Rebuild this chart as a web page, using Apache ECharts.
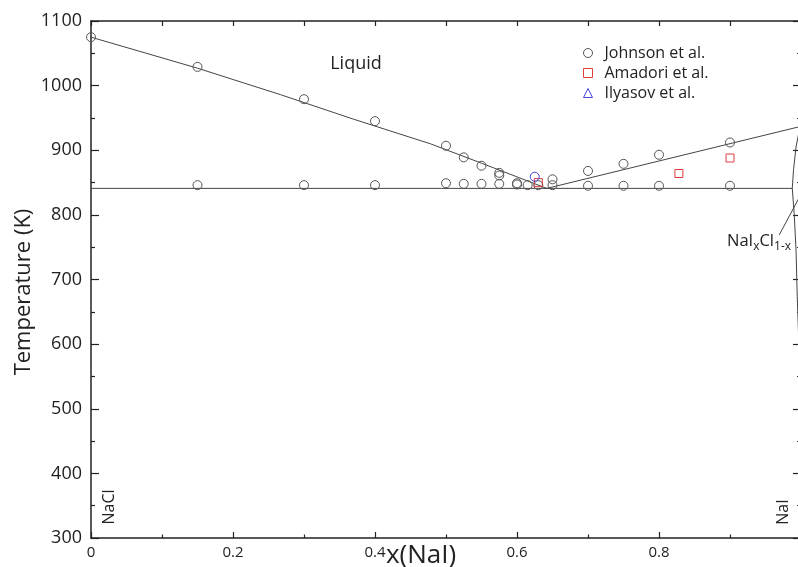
<!DOCTYPE html>
<html><head><meta charset="utf-8">
<script src="https://cdn.jsdelivr.net/npm/echarts@6/dist/echarts.min.js"></script>
<style>html,body{margin:0;padding:0;background:#fff}#c{width:798px;height:567px}</style>
</head><body><div id="c"></div>
<script>
// ---- data ----
const johnson = [
  [0,1075],[0.15,1029],[0.3,979],[0.4,945],[0.5,907],[0.525,889],[0.55,876],[0.575,865],[0.575,861],
  [0.65,855],[0.7,868],[0.75,879],[0.8,893],[0.9,912],
  [0.15,846],[0.3,846],[0.4,846],[0.5,849],[0.525,848],[0.55,848],[0.575,848],[0.6,849],[0.6,847],
  [0.615,846],[0.63,846],[0.65,846],[0.7,845],[0.75,845],[0.8,845],[0.9,845]
];
const amadori = [[0.63,850],[0.828,864],[0.9,888]];
const ilyasov = [[0.625,859]];
const liquidusLeft = [[0,1075],[0.15,1027],[0.267,986],[0.37,948],[0.478,910],[0.55,880],[0.642,841]];
const liquidusRight = [[0.642,841],[1.0,937]];
const eutectic = [[0,841],[0.9877,841]];
const solidus = [[1.0,937],[0.996,922],[0.993,905],[0.9895,870],[0.9877,841],[0.9904,802],[0.993,746],[0.9947,674],[0.997,600],[0.999,500],[1.0,400]];
const leader = [[0.9694,769],[0.9976,827]];
const seriesNames = ['Johnson et al.','Amadori et al.','Ilyasov et al.'];
const xAxisTitle = 'x(NaI)';
const yAxisTitle = 'Temperature (K)';

const FONT = 'Open Sans';
const INK = '#222';
const lineStyle = {color:'#444', width:1};
function lineSeries(data){
  return {type:'line', data, symbol:'none', silent:true, lineStyle, z:2, animation:false};
}
const chart = echarts.init(document.getElementById('c'), null, {renderer:'canvas'});
chart.setOption({
  animation:false,
  backgroundColor:'#fff',
  textStyle:{fontFamily:FONT},
  grid:{left:91, right:-3, top:21, bottom:29, containLabel:false, outerBoundsMode:'none'},
  xAxis:[
    {type:'value', min:0, max:1, interval:0.2, position:'bottom',
     axisLine:{show:true, onZero:false, lineStyle:{color:INK, width:1.5}},
     axisTick:{show:true, inside:true, length:6, lineStyle:{color:INK, width:1.2}},
     minorTick:{show:true, splitNumber:2, length:3.5, lineStyle:{color:INK, width:1.2}},
     axisLabel:{show:true, fontSize:15, color:INK, margin:7, fontFamily:FONT,
       formatter:v => v >= 1 ? '' : String(v)},
     splitLine:{show:false}, minorSplitLine:{show:false}},
    {type:'value', min:0, max:1, interval:0.1, position:'top',
     axisLine:{show:true, onZero:false, lineStyle:{color:INK, width:1.5}},
     axisTick:{show:true, inside:true, length:5, lineStyle:{color:INK, width:1.2}},
     axisLabel:{show:false}, splitLine:{show:false}}
  ],
  yAxis:[
    {type:'value', min:300, max:1100, interval:100, position:'left',
     axisLine:{show:true, onZero:false, lineStyle:{color:INK, width:1.5}},
     axisTick:{show:true, inside:true, length:8, lineStyle:{color:INK, width:1.2}},
     minorTick:{show:true, splitNumber:2, length:4, lineStyle:{color:INK, width:1.2}},
     axisLabel:{show:true, fontSize:18, color:INK, margin:9, fontFamily:FONT,
       formatter:v => String(v)},
     splitLine:{show:false}},
    {type:'value', min:300, max:1100, interval:100, position:'right',
     axisLine:{show:true, onZero:false, lineStyle:{color:INK, width:1.5}},
     axisTick:{show:true, inside:true, length:8, lineStyle:{color:INK, width:1.2}},
     minorTick:{show:true, splitNumber:2, length:4, lineStyle:{color:INK, width:1.2}},
     axisLabel:{show:false}, splitLine:{show:false}}
  ],
  legend:{
    orient:'vertical', left:583, top:45, padding:0, itemWidth:9, itemHeight:9, itemGap:4,
    textStyle:{fontSize:16, color:INK, fontFamily:FONT, padding:[0,0,0,7]},
    itemStyle:{borderWidth:1},
    data:[
      {name:seriesNames[0], icon:'circle'},
      {name:seriesNames[1], icon:'rect'},
      {name:seriesNames[2], icon:'triangle'}
    ]
  },
  series:[
    lineSeries(liquidusLeft),
    lineSeries(liquidusRight),
    lineSeries(eutectic),
    lineSeries(solidus),
    lineSeries(leader),
    {type:'scatter', name:seriesNames[0], data:johnson, symbol:'circle', symbolSize:9, z:5,
     itemStyle:{color:'rgba(255,255,255,0)', borderColor:'#555', borderWidth:1, opacity:1}},
    {type:'scatter', name:seriesNames[1], data:amadori, symbol:'rect', symbolSize:8, z:6,
     itemStyle:{color:'rgba(255,255,255,0)', borderColor:'#e03c3c', borderWidth:1, opacity:1}},
    {type:'scatter', name:seriesNames[2], data:ilyasov, symbol:'circle', symbolSize:9, z:6,
     itemStyle:{color:'rgba(255,255,255,0)', borderColor:'#4646dc', borderWidth:1, opacity:1}}
  ],
  graphic:[
    {type:'text', x:356, y:64, style:{text:'Liquid', font:'18px "Open Sans"', fill:INK, align:'center', verticalAlign:'middle', textAlign:'center', textVerticalAlign:'middle'}},
    {type:'text', x:109, y:507, rotation:Math.PI/2, style:{text:'NaCl', font:'16px "Open Sans"', fill:INK, align:'center', verticalAlign:'middle', textAlign:'center', textVerticalAlign:'middle'}},
    {type:'text', x:783, y:512, rotation:Math.PI/2, style:{text:'NaI', font:'16px "Open Sans"', fill:INK, align:'center', verticalAlign:'middle', textAlign:'center', textVerticalAlign:'middle'}},
    {type:'text', x:727, y:229, style:{
      text:'{a|NaI}{s|x}{a|Cl}{s|1-x}', fill:INK, align:'left', verticalAlign:'top',
      rich:{
        a:{fontSize:16.5, fontFamily:FONT, lineHeight:24, verticalAlign:'middle', fill:INK, color:INK},
        s:{fontSize:12, fontFamily:FONT, lineHeight:12, verticalAlign:'bottom', fill:INK, color:INK}
      }}},
    {type:'text', x:421, y:556, style:{text:xAxisTitle, font:'26px "Open Sans"', fill:INK, align:'center', verticalAlign:'middle', textAlign:'center', textVerticalAlign:'middle'}},
    {type:'text', x:24, y:292, rotation:Math.PI/2, style:{text:yAxisTitle, font:'22px "Open Sans"', fill:INK, align:'center', verticalAlign:'middle', textAlign:'center', textVerticalAlign:'middle'}}
  ]
});
</script></body></html>
